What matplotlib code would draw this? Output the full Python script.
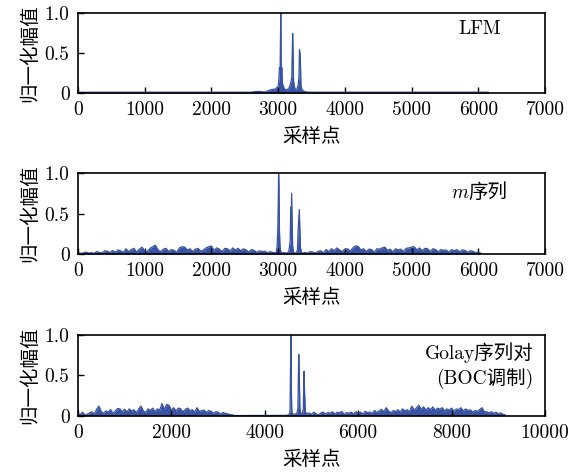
import numpy as np
import matplotlib
matplotlib.use("Agg")
import matplotlib.pyplot as plt

plt.rcParams["font.family"] = ["cmr10", "Noto Sans CJK SC", "DejaVu Sans"]
plt.rcParams["mathtext.fontset"] = "cm"
plt.rcParams["axes.unicode_minus"] = False

# ---- data (sample index, normalised amplitude) ----
# LFM: flat floor with three correlation peaks
lfm_floor_x = [0, 500, 1000, 1500, 2000, 2500, 2600, 3450, 3500, 4000, 4500, 5000, 5500, 6000, 6150]
lfm_floor_y = [0.012, 0.012, 0.012, 0.012, 0.012, 0.012, 0.012, 0.012, 0.012, 0.012, 0.012, 0.012, 0.012, 0.012, 0.012]
lfm_peak_x = [2650, 2700, 2750, 2800, 2850, 2900, 2950, 2980, 3000, 3010, 3020, 3030, 3040, 3048,
              3055, 3065, 3080, 3100, 3130, 3160, 3180, 3195, 3205, 3212, 3218, 3225, 3232, 3245,
              3260, 3280, 3300, 3312, 3320, 3328, 3335, 3342, 3360, 3400]
lfm_peak_y = [0.02, 0.022, 0.02, 0.012, 0.03, 0.045, 0.05, 0.07, 0.08, 0.15, 0.32, 0.3, 1.0, 0.2,
              0.32, 0.12, 0.08, 0.05, 0.04, 0.06, 0.1, 0.15, 0.2, 0.5, 0.74, 0.5, 0.15, 0.08,
              0.04, 0.05, 0.1, 0.2, 0.54, 0.5, 0.4, 0.1, 0.04, 0.02]

# m-sequence: noisy floor, step 40 samples
m_left_y = [0.02, 0.008, 0.012, 0.025, 0.01, 0.018, 0.006, 0.03, 0.02, 0.012,
            0.04, 0.035, 0.015, 0.045, 0.02, 0.05, 0.04, 0.02, 0.065, 0.03,
            0.055, 0.07, 0.025, 0.06, 0.085, 0.04, 0.03, 0.07, 0.09, 0.11,
            0.05, 0.03, 0.06, 0.07, 0.03, 0.055, 0.045, 0.02, 0.075, 0.09,
            0.085, 0.05, 0.065, 0.03, 0.06, 0.07, 0.035, 0.05, 0.075, 0.09,
            0.1, 0.045, 0.075, 0.06, 0.03, 0.07, 0.065, 0.035, 0.075, 0.05,
            0.07, 0.04, 0.065, 0.05, 0.025, 0.055, 0.045, 0.02, 0.04, 0.03,
            0.035, 0.015, 0.03, 0.02, 0.015]
m_left_start = 0
m_peak_x = [2970, 2985, 2995, 3002, 3008, 3014, 3020, 3028, 3040, 3060, 3080, 3100, 3130, 3160,
            3180, 3190, 3196, 3202, 3210, 3218, 3230, 3250, 3270, 3290, 3300, 3310, 3318, 3326,
            3335, 3350, 3370]
m_peak_y = [0.01, 0.1, 0.3, 0.6, 1.0, 0.8, 0.3, 0.1, 0.03, 0.01, 0.02, 0.015, 0.01, 0.03,
            0.15, 0.58, 0.2, 0.75, 0.4, 0.1, 0.02, 0.015, 0.01, 0.05, 0.3, 0.45, 0.55, 0.3,
            0.08, 0.02, 0.01]
m_right_y = [0.02, 0.01, 0.03, 0.025, 0.01, 0.035, 0.04, 0.015, 0.055, 0.03,
             0.065, 0.04, 0.075, 0.05, 0.03, 0.06, 0.065, 0.035, 0.075, 0.1,
             0.095, 0.05, 0.065, 0.03, 0.06, 0.055, 0.02, 0.065, 0.06, 0.075,
             0.085, 0.045, 0.06, 0.025, 0.065, 0.05, 0.06, 0.03, 0.07, 0.075,
             0.085, 0.09, 0.05, 0.075, 0.04, 0.07, 0.065, 0.03, 0.065, 0.055,
             0.025, 0.055, 0.045, 0.05, 0.02, 0.055, 0.04, 0.055, 0.025, 0.05,
             0.045, 0.02, 0.04, 0.035, 0.015, 0.025, 0.01]
m_right_start = 3400
m_step = 40

# Golay pair (BOC): noisy floor, step 50 samples
g_left_y = [0.03, 0.015, 0.045, 0.01, 0.02, 0.035, 0.05, 0.02, 0.08, 0.12,
            0.05, 0.03, 0.06, 0.045, 0.075, 0.03, 0.06, 0.09, 0.085, 0.045,
            0.08, 0.05, 0.085, 0.06, 0.075, 0.035, 0.085, 0.12, 0.06, 0.04,
            0.085, 0.065, 0.095, 0.05, 0.085, 0.07, 0.15, 0.08, 0.14, 0.13,
            0.07, 0.1, 0.06, 0.095, 0.085, 0.05, 0.08, 0.095, 0.06, 0.075,
            0.045, 0.1, 0.05, 0.065, 0.07, 0.04, 0.065, 0.055, 0.03, 0.05,
            0.045, 0.02, 0.04, 0.03, 0.025, 0.015, 0.012, 0.004]
g_left_start = 0
g_peak_x = [3400, 3800, 4200, 4450, 4520, 4540, 4552, 4561, 4570, 4580, 4600, 4640, 4690, 4710,
            4728, 4740, 4752, 4770, 4800, 4825, 4840, 4853, 4868, 4890, 4920]
g_peak_y = [0.003, 0.004, 0.004, 0.005, 0.01, 0.05, 0.62, 1.0, 0.3, 0.05, 0.02, 0.02, 0.03, 0.1,
            0.76, 0.48, 0.1, 0.03, 0.02, 0.08, 0.55, 0.29, 0.06, 0.02, 0.03]
g_right_y = [0.035, 0.015, 0.045, 0.025, 0.01, 0.035, 0.045, 0.02, 0.04, 0.03,
             0.05, 0.02, 0.045, 0.035, 0.055, 0.015, 0.04, 0.03, 0.045, 0.02,
             0.05, 0.035, 0.045, 0.02, 0.055, 0.04, 0.045, 0.03, 0.065, 0.04,
             0.06, 0.08, 0.05, 0.1, 0.06, 0.035, 0.065, 0.05, 0.075, 0.045,
             0.085, 0.06, 0.075, 0.05, 0.12, 0.07, 0.1, 0.13, 0.08, 0.11,
             0.07, 0.1, 0.075, 0.11, 0.065, 0.095, 0.08, 0.1, 0.06, 0.085,
             0.07, 0.095, 0.055, 0.085, 0.075, 0.1, 0.06, 0.085, 0.065, 0.075,
             0.045, 0.065, 0.055, 0.075, 0.1, 0.05, 0.05, 0.035, 0.05, 0.03,
             0.045, 0.025, 0.035, 0.02, 0.01]
g_right_start = 4950
g_step = 50

xlims = [7000, 7000, 10000]
xticks_list = [[0, 1000, 2000, 3000, 4000, 5000, 6000, 7000],
               [0, 1000, 2000, 3000, 4000, 5000, 6000, 7000],
               [0, 2000, 4000, 6000, 8000, 10000]]
yticks = [0, 0.5, 1.0]
ytick_labels = ["0", "0.5", "1.0"]
xlabel = "采样点"
ylabel = "归一化幅值"
line_color = "#3953a4"


def merged(*parts):
    xs = np.concatenate([np.asarray(p[0], float) for p in parts])
    ys = np.concatenate([np.asarray(p[1], float) for p in parts])
    order = np.argsort(xs, kind="stable")
    return xs[order], ys[order]


def stepped(start, step, ys):
    return start + step * np.arange(len(ys)), ys


series = [
    merged((lfm_floor_x, lfm_floor_y), (lfm_peak_x, lfm_peak_y)),
    merged(stepped(m_left_start, m_step, m_left_y), (m_peak_x, m_peak_y),
           stepped(m_right_start, m_step, m_right_y)),
    merged(stepped(g_left_start, g_step, g_left_y), (g_peak_x, g_peak_y),
           stepped(g_right_start, g_step, g_right_y)),
]

fig = plt.figure(figsize=(5.86, 4.73), dpi=100)
boxes = [[0.133, 0.803, 0.797, 0.170],
         [0.133, 0.463, 0.797, 0.171],
         [0.133, 0.121, 0.797, 0.171]]

axes = []
for i, (x, y) in enumerate(series):
    ax = fig.add_axes(boxes[i])
    ax.fill_between(x, 0, y, color=line_color, lw=0)
    ax.plot(x, y, color=line_color, lw=0.9)
    ax.set_xlim(0, xlims[i])
    ax.set_ylim(0, 1.0)
    ax.set_xticks(xticks_list[i])
    ax.set_xticklabels([str(t) for t in xticks_list[i]])
    ax.set_yticks(yticks)
    ax.set_yticklabels(ytick_labels)
    ax.tick_params(direction="in", length=4, width=1, labelsize=14, pad=6,
                   top=False, right=False)
    for s in ax.spines.values():
        s.set_linewidth(1.2)
    ax.set_xlabel(xlabel, fontsize=14, labelpad=6)
    ax.set_ylabel(ylabel, fontsize=14, labelpad=4)
    axes.append(ax)

# panel labels
axes[0].text(0.905, 0.80, "LFM", transform=axes[0].transAxes,
             fontsize=14, ha="right", va="center")
axes[1].text(0.92, 0.76, "序列", transform=axes[1].transAxes,
             fontsize=14, ha="right", va="center")
axes[1].annotate("m", xy=(0.92, 0.76), xycoords="axes fraction",
                 xytext=(-28, 0), textcoords="offset points",
                 fontsize=14, ha="right", va="center", family="cmmi10")
axes[2].text(0.975, 0.62, "Golay序列对\n(BOC调制)", transform=axes[2].transAxes,
             fontsize=14, ha="right", va="center", linespacing=1.3)

fig.savefig("out.png", dpi=100)
